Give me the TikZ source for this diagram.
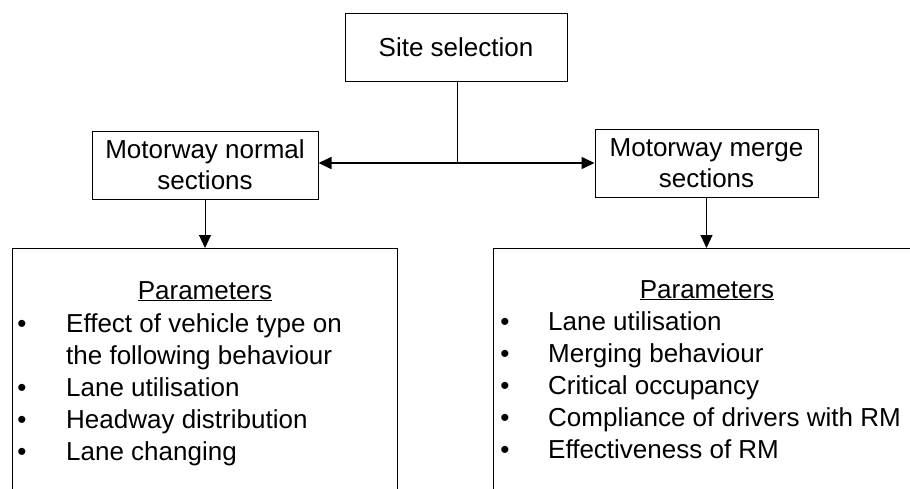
\documentclass[tikz,border=0pt]{standalone}
\usepackage{fontspec}
\setmainfont{Liberation Sans}
\usetikzlibrary{arrows.meta}
\begin{document}
\begin{tikzpicture}[x=1pt,y=-1pt,
  font=\fontsize{26}{31}\selectfont,
  box/.style={draw, line width=1pt, inner sep=0pt, align=center, minimum height=68pt},
  bigbox/.style={draw, line width=1pt, inner sep=0pt, anchor=north west, minimum height=300pt},
  conn/.style={line width=1pt, -{Triangle[length=13pt,width=12pt]}},
  item/.style={anchor=base west, inner sep=0pt},
  bul/.style={anchor=base, inner sep=0pt},
  head/.style={anchor=base, inner sep=0pt}]
\useasboundingbox (0,0) rectangle (910,488);
\clip (0,0) rectangle (910,488);

% top boxes
\node[box, minimum width=222pt] (site) at (456,47) {Site selection};
\node[box, minimum width=226pt] (normal) at (205,165) {Motorway normal\\sections};
\node[box, minimum width=223pt] (merge) at (706.5,163) {Motorway merge\\sections};

% parameter boxes (running past the page edge)
\node[bigbox, minimum width=385pt] (left) at (12,248) {};
\node[bigbox, minimum width=440pt] (right) at (493,248) {};

% connectors
\coordinate (J) at (457,163);
\draw[line width=1pt] (site.south -| J) -- (J);
\draw[conn, line width=1.6pt] (J) -- (J -| normal.east);
\draw[conn, line width=1.6pt] (J) -- (J -| merge.west);
\draw[conn] (normal.south) -- (left.north -| normal.south);
\draw[conn] (merge.south) -- (right.north -| merge.south);

% left parameters
\node[head] (lhead) at (205,299) {\underline{Parameters}};
\node[bul] (lb1) at (22,332) {•};
\node[item] (lt1) at (66,332) {Effect of vehicle type on};
\node[item] (lt1b) at (66,364) {the following behaviour};
\node[bul] (lb2) at (22,396) {•};
\node[item] (lt2) at (66,396) {Lane utilisation};
\node[bul] (lb3) at (22,428) {•};
\node[item] (lt3) at (66,428) {Headway distribution};
\node[bul] (lb4) at (22,460) {•};
\node[item] (lt4) at (66,460) {Lane changing};

% right parameters
\node[head] (rhead) at (707,298) {\underline{Parameters}};
\node[bul] (rb1) at (505,330) {•};
\node[item] (rt1) at (548,330) {Lane utilisation};
\node[bul] (rb2) at (505,362) {•};
\node[item] (rt2) at (548,362) {Merging behaviour};
\node[bul] (rb3) at (505,394) {•};
\node[item] (rt3) at (548,394) {Critical occupancy};
\node[bul] (rb4) at (505,426) {•};
\node[item] (rt4) at (548,426) {Compliance of drivers with RM};
\node[bul] (rb5) at (505,458) {•};
\node[item] (rt5) at (548,458) {Effectiveness of RM};
\end{tikzpicture}
\end{document}
